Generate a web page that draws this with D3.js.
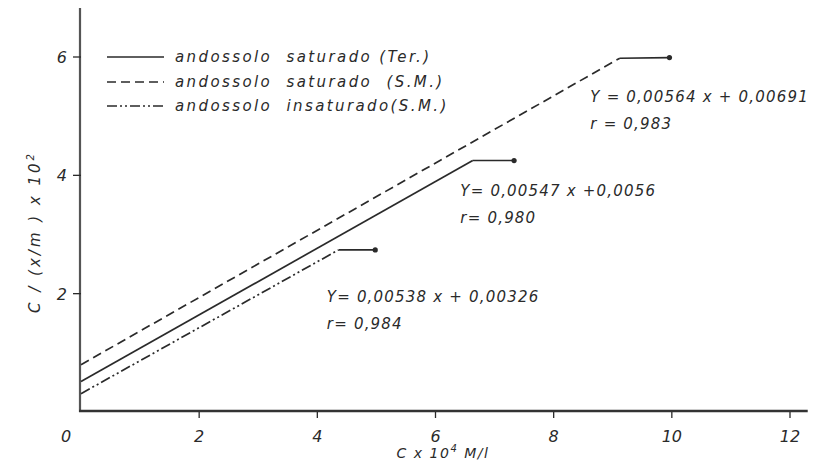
<!DOCTYPE html>
<html>
<head>
<meta charset="utf-8">
<script src="https://cdn.jsdelivr.net/npm/d3@7"></script>
<style>
  body { margin: 0; background: #fff; }
  text { font-family: "DejaVu Sans", sans-serif; font-style: italic; fill: #2a2a2a; }
</style>
</head>
<body>
<div id="chart"></div>
<script>
// Values (x = C x 10^4 M/l, y = C/(x/m) x 10^2)
const xTicks = [0, 2, 4, 6, 8, 10, 12];
const yTicks = [2, 4, 6];

const terX = [0, 6.63, 7.33];
const terY = [0.515, 4.25, 4.25];

const smX = [0, 9.12, 9.96];
const smY = [0.80, 5.98, 5.99];

const insX = [0, 4.36, 4.98];
const insY = [0.31, 2.74, 2.74];

const legendLabels = [
  "andossolo  saturado (Ter.)",
  "andossolo  saturado  (S.M.)",
  "andossolo  insaturado(S.M.)"
];

const eqLines = [
  ["Y = 0,00564 x + 0,00691", "r = 0,983"],
  ["Y= 0,00547 x +0,0056", "r= 0,980"],
  ["Y= 0,00538 x + 0,00326", "r= 0,984"]
];
// where each equation block sits, in data units
const eqX = [8.62, 6.42, 4.16];
const eqY = [5.24, 3.65, 1.86];

const width = 813, height = 463;
const svg = d3.select('#chart').append('svg')
  .attr('width', width).attr('height', height);

const x = d3.scaleLinear().domain([0, 12]).range([81, 790]);
const y = d3.scaleLinear().domain([0, 6]).range([412, 57]);

const ink = '#2a2a2a';

// axes
svg.append('line')
  .attr('x1', x(0) - 1).attr('x2', x(0) - 1)
  .attr('y1', y(0)).attr('y2', y(6.83))
  .attr('stroke', '#555').attr('stroke-width', 2.2);
svg.append('line')
  .attr('x1', x(0) - 2).attr('x2', x(12.3))
  .attr('y1', y(0) - 1).attr('y2', y(0) - 1)
  .attr('stroke', '#333').attr('stroke-width', 2.6);

// x ticks
const gx = svg.append('g');
gx.selectAll('line').data(xTicks.filter(d => d > 0)).enter().append('line')
  .attr('x1', d => x(d)).attr('x2', d => x(d))
  .attr('y1', y(0)).attr('y2', y(0) + 6)
  .attr('stroke', ink).attr('stroke-width', 1.3);
gx.selectAll('text').data(xTicks).enter().append('text')
  .attr('x', d => d === 0 ? x(d) - 15 : x(d))
  .attr('y', 442)
  .attr('text-anchor', 'middle')
  .attr('font-size', 16)
  .text(d => d);

// y ticks
const gy = svg.append('g');
gy.selectAll('line').data(yTicks).enter().append('line')
  .attr('x1', x(0) - 8).attr('x2', x(0))
  .attr('y1', d => y(d)).attr('y2', d => y(d))
  .attr('stroke', ink).attr('stroke-width', 1.3);
gy.selectAll('text').data(yTicks).enter().append('text')
  .attr('x', x(0) - 14)
  .attr('y', d => y(d) + 6)
  .attr('text-anchor', 'end')
  .attr('font-size', 16)
  .text(d => d);

// axis titles
const xt = svg.append('text')
  .attr('x', 443).attr('y', 458)
  .attr('text-anchor', 'middle').attr('font-size', 14)
  .attr('letter-spacing', 1.5);
xt.append('tspan').text('C x 10');
xt.append('tspan').attr('dy', -6).attr('font-size', 10).text('4');
xt.append('tspan').attr('dy', 6).text(' M/l');

const yt = svg.append('text')
  .attr('transform', 'translate(40,232) rotate(-90)')
  .attr('text-anchor', 'middle').attr('font-size', 15)
  .attr('letter-spacing', 3);
yt.append('tspan').text('C / (x/m ) x 10');
yt.append('tspan').attr('dy', -6).attr('font-size', 10).text('2');

// series
const series = [
  { xs: terX, ys: terY, dash: null },
  { xs: smX, ys: smY, dash: '9,5' },
  { xs: insX, ys: insY, dash: '10,3,2,3,2,3' }
];

const line = d3.line().x(d => x(d[0])).y(d => y(d[1]));

series.forEach(s => {
  const pts = s.xs.map((v, i) => [v, s.ys[i]]);
  // sloped part with its own dash style
  svg.append('path')
    .attr('d', line(pts.slice(0, 2)))
    .attr('fill', 'none').attr('stroke', ink)
    .attr('stroke-width', 1.7)
    .attr('stroke-dasharray', s.dash);
  // short flat part to the end point
  svg.append('path')
    .attr('d', line(pts.slice(1)))
    .attr('fill', 'none').attr('stroke', ink)
    .attr('stroke-width', 1.6);
  svg.append('circle')
    .attr('cx', x(pts[2][0])).attr('cy', y(pts[2][1]))
    .attr('r', 2.6).attr('fill', ink);
});

// legend
const legY = [57, 82, 106];
const lg = svg.append('g');
legendLabels.forEach((lab, i) => {
  lg.append('line')
    .attr('x1', 107).attr('x2', 164)
    .attr('y1', legY[i]).attr('y2', legY[i])
    .attr('stroke', ink).attr('stroke-width', 1.6)
    .attr('stroke-dasharray', series[i].dash);
  lg.append('text')
    .attr('x', 175).attr('y', legY[i] + 5)
    .attr('font-size', 15).attr('letter-spacing', 2.4)
    .style('white-space', 'pre')
    .text(lab);
});

// regression equations
eqLines.forEach((rows, i) => {
  rows.forEach((t, j) => {
    svg.append('text')
      .attr('x', x(eqX[i])).attr('y', y(eqY[i]) + j * 27)
      .attr('font-size', 15).attr('letter-spacing', 1.2)
      .style('white-space', 'pre')
      .text(t);
  });
});
</script>
</body>
</html>
